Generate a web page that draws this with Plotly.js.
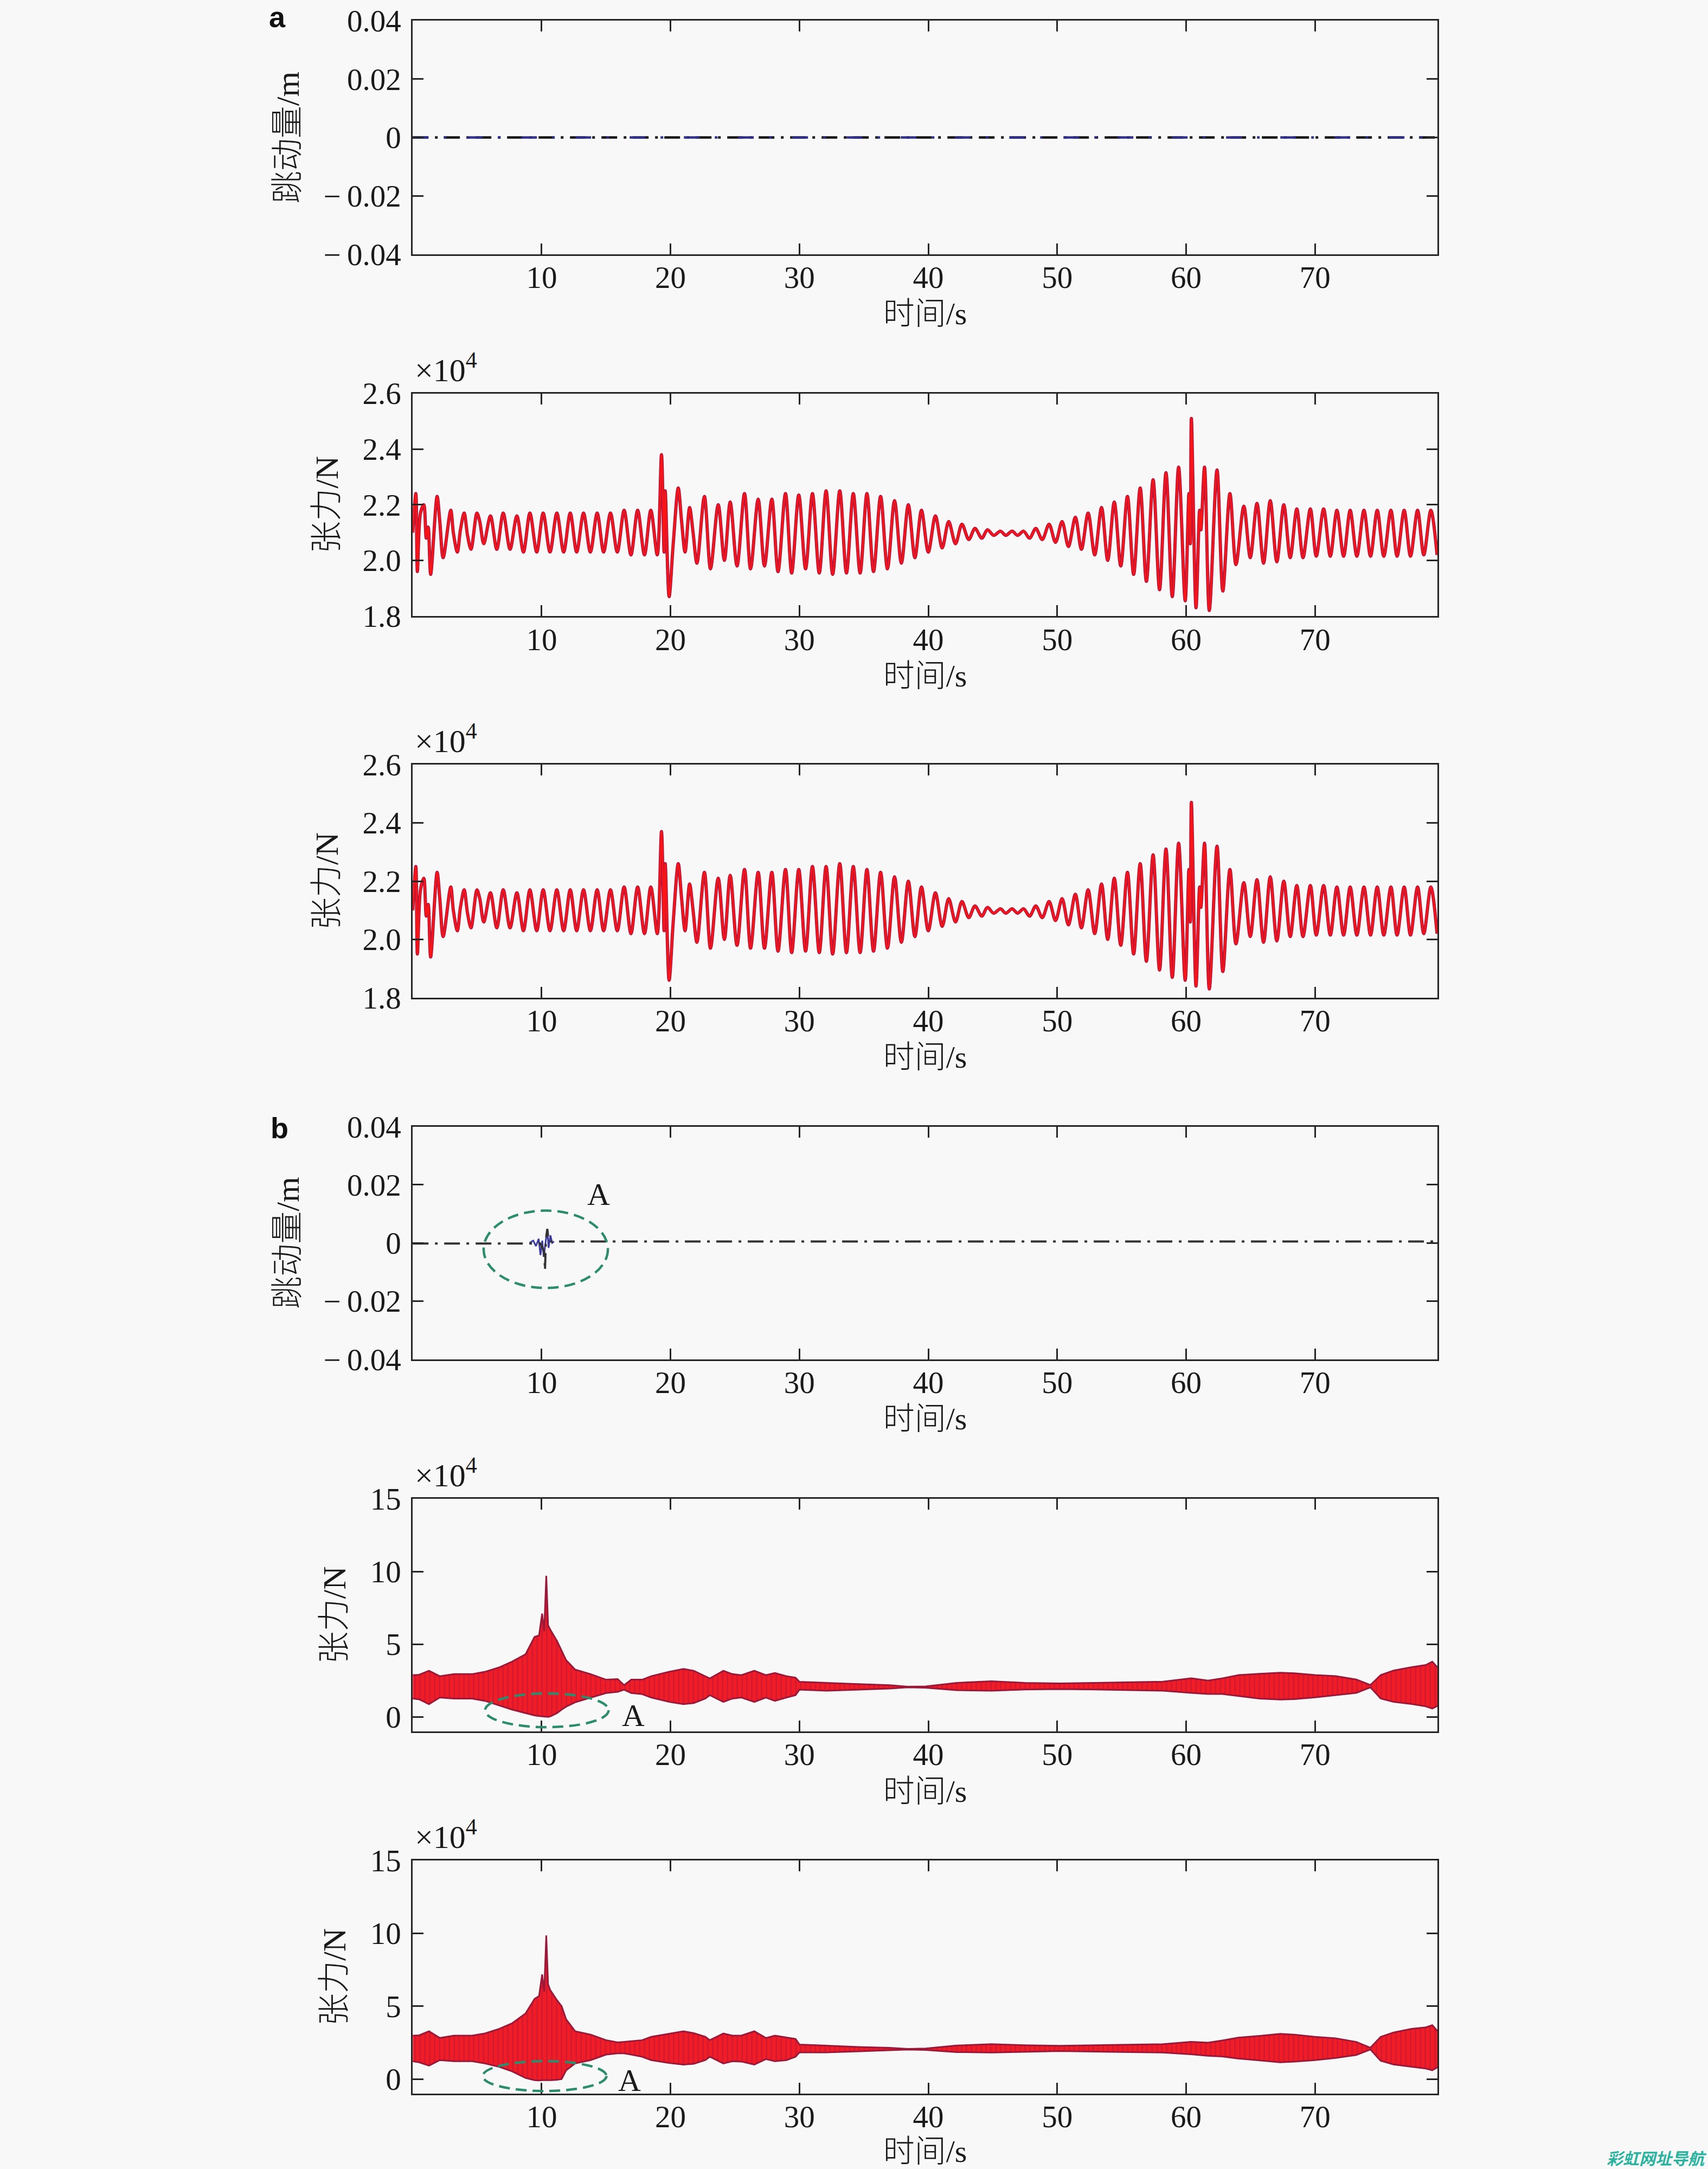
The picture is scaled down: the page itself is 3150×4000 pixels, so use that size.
<!DOCTYPE html>
<html>
<head>
<meta charset="utf-8">
<script src="https://cdn.plot.ly/plotly-3.0.1.min.js"></script>
<style>html,body{margin:0;padding:0;background:#f8f8f8;}</style>
</head>
<body>
<div id="chart" style="width:3150px;height:4000px;"></div>
<script>
// ---------------- DATA ----------------
// time axis ticks
const xTickVals = [10, 20, 30, 40, 50, 60, 70];
const xTickText = ['10', '20', '30', '40', '50', '60', '70'];

// panel a1: bounce amount (m), flat
const a1_t = [0, 79.5];
const a1_v = [0, 0];

// panel a2: tension (x1e4 N), extrema times and values
const a2_t = [0, 0.24, 0.36, 0.6, 0.86, 1.05, 1.2, 1.39, 1.89, 2.1, 2.36, 2.95, 3.15, 3.46, 3.7, 3.99, 4.25, 4.52, 4.98, 5.2,
  5.51, 6.03, 6.52, 7.02, 7.55, 8.08, 8.59, 9.09, 9.62, 10.12, 10.65, 11.18, 11.71, 12.22, 12.72, 13.25, 13.78, 14.31, 14.81, 15.34,
  15.87, 16.40, 16.93, 17.45, 17.98, 18.47, 18.97, 19.30, 19.50, 19.59, 19.89, 20.21, 20.6, 20.86, 21.13, 21.48, 21.75, 22.05, 22.63, 23.1,
  23.7, 24.18, 24.63, 25.16, 25.74, 26.21, 26.8, 27.29, 27.86, 28.34, 28.92, 29.40, 29.95, 30.48, 31.01, 31.54, 32.07, 32.58, 33.13, 33.65,
  34.18, 34.71, 35.24, 35.75, 36.30, 36.83, 37.38, 37.91, 38.45, 38.96, 39.47, 40.00, 40.55, 41.08, 41.58, 42.11, 42.61, 43.14, 43.62, 44.15,
  44.59, 45.07, 45.60, 46.01, 46.50, 46.93, 47.39, 47.86, 48.34, 48.84, 49.37, 49.87, 50.38, 50.87, 51.41, 51.88, 52.40, 52.91, 53.44, 53.92,
  54.43, 54.93, 55.45, 55.93, 56.44, 56.92, 57.44, 57.94, 58.44, 58.93, 59.42, 59.93, 60.22, 60.33, 60.41, 60.77, 61.05, 61.15, 61.43, 61.80,
  62.40, 62.85, 63.40, 63.87, 64.48, 64.98, 65.50, 66.01, 66.53, 67.04, 67.58, 68.08, 68.59, 69.07, 69.64, 70.10, 70.67, 71.19, 71.70, 72.22,
  72.73, 73.25, 73.80, 74.31, 74.83, 75.34, 75.89, 76.37, 76.92, 77.41, 77.96, 78.44, 78.99, 79.47];
const a2_v = [2.10, 2.24, 1.96, 2.17, 2.20, 2.08, 2.12, 1.95, 2.23, 2.14, 2.01, 2.18, 2.10, 2.03, 2.11, 2.17, 2.09, 2.04, 2.17, 2.14,
  2.06, 2.16, 2.04, 2.17, 2.04, 2.16, 2.03, 2.17, 2.03, 2.17, 2.03, 2.17, 2.03, 2.17, 2.03, 2.17, 2.03, 2.17, 2.03, 2.17,
  2.03, 2.18, 2.02, 2.18, 2.02, 2.18, 2.02, 2.38, 2.03, 2.25, 1.87, 2.06, 2.26, 2.14, 2.03, 2.19, 2.10, 1.99, 2.23, 1.97,
  2.20, 2.00, 2.21, 1.98, 2.24, 1.97, 2.22, 1.98, 2.22, 1.96, 2.24, 1.955, 2.235, 1.97, 2.24, 1.955, 2.25, 1.95, 2.25, 1.955,
  2.24, 1.955, 2.24, 1.96, 2.23, 1.97, 2.215, 1.99, 2.20, 2.01, 2.18, 2.03, 2.16, 2.045, 2.14, 2.06, 2.13, 2.075, 2.115, 2.08,
  2.11, 2.09, 2.105, 2.09, 2.105, 2.09, 2.105, 2.08, 2.115, 2.075, 2.13, 2.065, 2.14, 2.05, 2.155, 2.04, 2.17, 2.02, 2.19, 2.00,
  2.21, 1.98, 2.23, 1.95, 2.26, 1.925, 2.29, 1.895, 2.315, 1.87, 2.335, 1.855, 2.24, 2.06, 2.51, 1.83, 2.18, 2.11, 2.335, 1.82,
  2.325, 1.89, 2.24, 1.985, 2.195, 2.01, 2.205, 1.99, 2.215, 1.995, 2.20, 2.01, 2.185, 2.01, 2.185, 2.015, 2.185, 2.015, 2.18, 2.015,
  2.18, 2.015, 2.18, 2.015, 2.18, 2.015, 2.18, 2.015, 2.18, 2.015, 2.18, 2.02, 2.18, 2.02];

// panel a3: tension (x1e4 N)
const a3_t = a2_t;
const a3_v = [2.10, 2.25, 1.95, 2.17, 2.21, 2.08, 2.12, 1.94, 2.23, 2.14, 2.01, 2.18, 2.10, 2.03, 2.11, 2.17, 2.09, 2.04, 2.17, 2.14,
  2.06, 2.16, 2.04, 2.17, 2.04, 2.16, 2.03, 2.17, 2.03, 2.17, 2.03, 2.17, 2.03, 2.17, 2.03, 2.17, 2.03, 2.17, 2.03, 2.17,
  2.03, 2.18, 2.02, 2.18, 2.02, 2.18, 2.02, 2.37, 2.03, 2.26, 1.86, 2.06, 2.26, 2.14, 2.03, 2.19, 2.10, 1.99, 2.23, 1.97,
  2.21, 2.00, 2.22, 1.98, 2.24, 1.97, 2.23, 1.97, 2.23, 1.96, 2.24, 1.955, 2.24, 1.96, 2.25, 1.955, 2.25, 1.95, 2.26, 1.955,
  2.25, 1.955, 2.24, 1.96, 2.23, 1.97, 2.215, 1.99, 2.20, 2.01, 2.18, 2.03, 2.16, 2.045, 2.14, 2.06, 2.13, 2.075, 2.115, 2.08,
  2.11, 2.09, 2.105, 2.09, 2.105, 2.09, 2.105, 2.08, 2.115, 2.075, 2.13, 2.065, 2.14, 2.05, 2.155, 2.04, 2.17, 2.02, 2.19, 2.00,
  2.21, 1.98, 2.23, 1.95, 2.26, 1.925, 2.29, 1.895, 2.31, 1.87, 2.33, 1.86, 2.24, 2.06, 2.47, 1.84, 2.18, 2.11, 2.33, 1.83,
  2.32, 1.89, 2.24, 1.985, 2.195, 2.01, 2.205, 1.99, 2.215, 1.995, 2.20, 2.01, 2.185, 2.01, 2.185, 2.015, 2.185, 2.015, 2.18, 2.015,
  2.18, 2.015, 2.18, 2.015, 2.18, 2.015, 2.18, 2.015, 2.18, 2.015, 2.18, 2.02, 2.18, 2.02];

// panel b1: bounce amount (m)
const b1_base_t = [0, 9.9, 10.2, 10.26, 10.33, 10.44, 10.55, 79.5];
const b1_base_v = [-0.0002, -0.0002, -0.003, -0.0095, 0.001, 0.0048, 0.0005, 0.0005];
const b1_wig_t = [9.07, 9.35, 9.56, 9.77, 9.91, 10.05, 10.16, 10.33, 10.44, 10.54, 10.68, 10.82, 10.96];
const b1_wig_v = [0, 0.0008, -0.0011, 0.0014, -0.0042, 0.0008, -0.0048, 0.0014, 0.0048, -0.0017, 0.0026, 0, 0.0005];

// panel b2: tension band envelope (x1e4 N)
const b2_t = [0, 0.5, 1.26, 2.1, 3.2, 4.6, 5.6, 6.7, 7.7, 8.75, 9.45, 9.8, 10.04, 10.2, 10.36, 10.5, 10.67, 11.2, 11.55, 11.9,
  12.6, 13.8, 15.0, 15.9, 16.4, 16.95, 17.8, 18.5, 19.9, 21.0, 21.8, 22.7, 23.05, 24.1, 24.8, 25.5, 26.5, 27.4, 28.1, 29.0,
  29.7, 30.0, 32.1, 34.6, 37.0, 38.4, 39.8, 42.2, 44.9, 47.5, 50.2, 52.9, 55.6, 58.2, 60.4, 61.7, 62.8, 64.1, 65.7, 67.3,
  68.4, 70.0, 71.6, 73.2, 74.3, 75.1, 76.1, 77.5, 78.6, 79.1, 79.5];
const b2_hi = [2.87, 2.9, 3.17, 2.8, 2.94, 2.94, 3.1, 3.4, 3.8, 4.3, 5.5, 5.6, 7.1, 5.9, 9.7, 6.3, 6.0, 5.2, 4.55, 3.9,
  3.25, 2.94, 2.56, 2.6, 2.18, 2.56, 2.56, 2.8, 3.1, 3.3, 3.17, 2.8, 2.64, 3.17, 2.94, 2.87, 3.17, 2.87, 3.02, 2.8,
  2.7, 2.41, 2.33, 2.25, 2.18, 2.08, 2.1, 2.34, 2.45, 2.34, 2.3, 2.34, 2.39, 2.42, 2.65, 2.5, 2.65, 2.88, 2.96, 3.04,
  3.0, 2.88, 2.8, 2.57, 2.19, 2.88, 3.19, 3.42, 3.57, 3.8, 3.4];
const b2_lo = [1.26, 1.2, 0.87, 1.33, 1.26, 1.26, 1.1, 0.8, 0.5, 0.26, 0.1, 0.05, 0.03, 0.0, 0.0, 0.0, 0.03, 0.26, 0.5, 0.7,
  1.0, 1.33, 1.64, 1.72, 1.87, 1.64, 1.56, 1.33, 1.03, 0.87, 0.95, 1.26, 1.49, 1.03, 1.26, 1.33, 1.03, 1.33, 1.1, 1.33,
  1.49, 1.87, 1.8, 1.87, 1.95, 2.03, 2.0, 1.83, 1.80, 1.88, 1.91, 1.88, 1.85, 1.80, 1.65, 1.57, 1.57, 1.42, 1.26, 1.19,
  1.22, 1.34, 1.5, 1.65, 2.03, 1.26, 1.03, 0.88, 0.72, 0.57, 0.75];

// panel b3: tension band envelope (x1e4 N)
const b3_t = b2_t;
const b3_hi = [2.98, 3.0, 3.28, 2.82, 2.98, 2.98, 3.13, 3.44, 3.82, 4.5, 5.5, 5.7, 7.18, 6.0, 9.85, 6.5, 6.1, 5.4, 5.0, 4.1,
  3.28, 3.05, 2.67, 2.52, 2.55, 2.6, 2.67, 2.9, 3.1, 3.28, 3.15, 2.9, 2.67, 3.13, 2.98, 2.98, 3.28, 2.82, 2.98, 2.85,
  2.75, 2.37, 2.29, 2.2, 2.14, 2.07, 2.1, 2.3, 2.4, 2.32, 2.28, 2.32, 2.36, 2.4, 2.55, 2.5, 2.65, 2.85, 2.96, 3.1,
  3.05, 2.9, 2.8, 2.55, 2.15, 2.9, 3.2, 3.45, 3.55, 3.7, 3.3];
const b3_lo = [1.22, 1.15, 0.92, 1.3, 1.22, 1.22, 1.07, 0.84, 0.53, 0.08, -0.08, -0.1, -0.08, -0.08, -0.08, -0.08, -0.08, -0.05, 0.0, 0.6,
  1.07, 1.3, 1.68, 1.76, 1.76, 1.68, 1.53, 1.3, 1.1, 0.99, 1.05, 1.3, 1.53, 1.07, 1.22, 1.2, 0.99, 1.37, 1.22, 1.3,
  1.53, 1.83, 1.83, 1.9, 1.98, 2.02, 2.0, 1.85, 1.82, 1.88, 1.92, 1.88, 1.86, 1.82, 1.7, 1.6, 1.55, 1.4, 1.28, 1.15,
  1.2, 1.3, 1.45, 1.65, 2.03, 1.25, 1.0, 0.85, 0.72, 0.6, 0.8];

// annotation ellipses (data coordinates): [x0, x1, y0, y1]
const ellB1 = [5.5, 15.14, -0.0155, 0.0111];
const ellB2 = [5.61, 15.2, -0.71, 1.61];
const ellB3 = [5.43, 15.03, -0.82, 1.23];
const labelA = [[14.4, 0.0168], [17.1, 0.1], [16.8, -0.09]];

// ---------------- LAYOUT ----------------
const W = 3150, H = 4000;
const xL = 761.2, xR = 2651;
const panels = [ // [top px, bottom px]
  [38.4, 468.6], [725.5, 1136.2], [1410, 1840], [2077.6, 2506.6], [2764, 3193], [3431, 3861]
];
const AX = '#262626';
const serif = 'Liberation Serif, Noto Sans CJK SC, serif';
const tickFont = {family: serif, size: 57, color: '#1a1a1a'};
const xTitleFont = {family: serif, size: 58, color: '#1a1a1a', weight: 300};
const yTitleFont = {family: serif, size: 60, color: '#1a1a1a', weight: 300};

const MINUS = '\u2212\u2009';
const disp = {tickvals: [-0.04, -0.02, 0, 0.02, 0.04], ticktext: [MINUS + '0.04', MINUS + '0.02', '0', '0.02', '0.04'], range: [-0.04, 0.04]};
const tenA = {tickvals: [1.8, 2.0, 2.2, 2.4, 2.6], ticktext: ['1.8', '2.0', '2.2', '2.4', '2.6'], range: [1.8, 2.6]};
const tenB = {tickvals: [0, 5, 10, 15], ticktext: ['0', '5', '10', '15'], range: [-1, 15]};
const ySpecs = [
  [disp, '跳动量/m'], [tenA, '张力/N'], [tenA, '张力/N'], [disp, '跳动量/m'], [tenB, '张力/N'], [tenB, '张力/N']
];

const layout = {
  width: W, height: H,
  margin: {l: 0, r: 0, t: 0, b: 0},
  paper_bgcolor: '#f8f8f8', plot_bgcolor: '#f8f8f8',
  showlegend: false,
  annotations: [], shapes: []
};

panels.forEach((p, i) => {
  const n = i === 0 ? '' : String(i + 1);
  const dom = [1 - p[1] / H, 1 - p[0] / H];
  const common = {
    showline: true, linewidth: 3, linecolor: AX, mirror: 'ticks',
    ticks: 'inside', ticklen: 20, tickwidth: 3, tickcolor: AX,
    showgrid: false, zeroline: false, tickfont: tickFont, fixedrange: true
  };
  layout['xaxis' + n] = Object.assign({}, common, {
    domain: [xL / W, xR / W], anchor: 'y' + n, range: [0, 79.5],
    tickmode: 'array', tickvals: xTickVals, ticktext: xTickText, ticklabelstandoff: -9,
    title: {text: '时间/s', font: xTitleFont, standoff: 16}
  });
  const ys = ySpecs[i];
  layout['yaxis' + n] = Object.assign({}, common, {
    domain: dom, anchor: 'x' + n, range: ys[0].range,
    tickmode: 'array', tickvals: ys[0].tickvals, ticktext: ys[0].ticktext, ticklabelstandoff: 7,
    title: {text: ys[1], font: yTitleFont, standoff: 26}
  });
  if (i === 1 || i === 2 || i === 4 || i === 5) {
    layout.annotations.push({
      xref: 'paper', yref: 'paper', x: 763 / W, y: 1 - (p[0] - 8) / H,
      xanchor: 'left', yanchor: 'bottom', showarrow: false,
      text: '\u00d710<sup>4</sup>', font: {family: serif, size: 60, color: '#1a1a1a'}
    });
  }
});

// panel letters
layout.annotations.push({xref: 'paper', yref: 'paper', x: 494 / W, y: 1 - 31 / H, xanchor: 'left', yanchor: 'middle', showarrow: false,
  text: '<b>a</b>', font: {family: 'Liberation Sans, Arial, sans-serif', size: 54, color: '#111'}});
layout.annotations.push({xref: 'paper', yref: 'paper', x: 497 / W, y: 1 - 2080 / H, xanchor: 'left', yanchor: 'middle', showarrow: false,
  text: '<b>b</b>', font: {family: 'Liberation Sans, Arial, sans-serif', size: 54, color: '#111'}});

// ellipses + A labels
const ells = [[ellB1, '4'], [ellB2, '5'], [ellB3, '6']];
ells.forEach((e, k) => {
  layout.shapes.push({type: 'circle', xref: 'x' + e[1], yref: 'y' + e[1], x0: e[0][0], x1: e[0][1], y0: e[0][2], y1: e[0][3],
    line: {color: '#2e8c6e', width: 4.5, dash: '20px,11px'}});
  layout.annotations.push({xref: 'x' + e[1], yref: 'y' + e[1], x: labelA[k][0], y: labelA[k][1], showarrow: false,
    text: 'A', font: {family: serif, size: 58, color: '#1a1a1a'}});
});

// watermark
layout.annotations.push({xref: 'paper', yref: 'paper', x: 1, y: 1 - 3979 / H, xanchor: 'right', yanchor: 'middle', showarrow: false,
  text: '<b><i>彩虹网址导航</i></b>', font: {family: 'Noto Sans CJK SC, sans-serif', size: 30, color: '#2bb3a0'}});

// ---------------- TRACES ----------------
const DARK = '#b3163f', RED = '#ff1414';
const traces = [];
// a1
traces.push({x: a1_t, y: a1_v, xaxis: 'x', yaxis: 'y', mode: 'lines', line: {color: '#111111', width: 4.5, dash: '29px,12px,5px,12px'}});
traces.push({x: a1_t, y: a1_v, xaxis: 'x', yaxis: 'y', mode: 'lines', line: {color: '#30308a', width: 4.5, dash: '29px,28px,5px,38px'}});
// a2, a3
[[a2_t, a2_v, '2'], [a3_t, a3_v, '3']].forEach(s => {
  traces.push({x: s[0], y: s[1], xaxis: 'x' + s[2], yaxis: 'y' + s[2], mode: 'lines', line: {color: DARK, width: 6, shape: 'spline', smoothing: 0.9}});
  traces.push({x: s[0], y: s[1], xaxis: 'x' + s[2], yaxis: 'y' + s[2], mode: 'lines', line: {color: RED, width: 3, shape: 'spline', smoothing: 0.9}});
});
// b1
traces.push({x: b1_wig_t, y: b1_wig_v, xaxis: 'x4', yaxis: 'y4', mode: 'lines', line: {color: '#3a3aa0', width: 3}});
traces.push({x: b1_base_t, y: b1_base_v, xaxis: 'x4', yaxis: 'y4', mode: 'lines', line: {color: '#333333', width: 4, dash: '29px,12px,5px,12px'}});
// b2, b3 bands
[[b2_t, b2_lo, b2_hi, '5'], [b3_t, b3_lo, b3_hi, '6']].forEach(s => {
  traces.push({x: s[0], y: s[1], xaxis: 'x' + s[3], yaxis: 'y' + s[3], mode: 'lines', line: {color: '#9a1838', width: 3}});
  traces.push({x: s[0], y: s[2], xaxis: 'x' + s[3], yaxis: 'y' + s[3], mode: 'lines', fill: 'tonexty', fillcolor: '#f01c26',
    fillpattern: {shape: '|', fgcolor: '#b01440', fgopacity: 0.55, size: 9, solidity: 0.25, fillmode: 'overlay'},
    line: {color: '#9a1838', width: 3}});
});

Plotly.newPlot('chart', traces, layout, {staticPlot: true, displayModeBar: false});
</script>
</body>
</html>
